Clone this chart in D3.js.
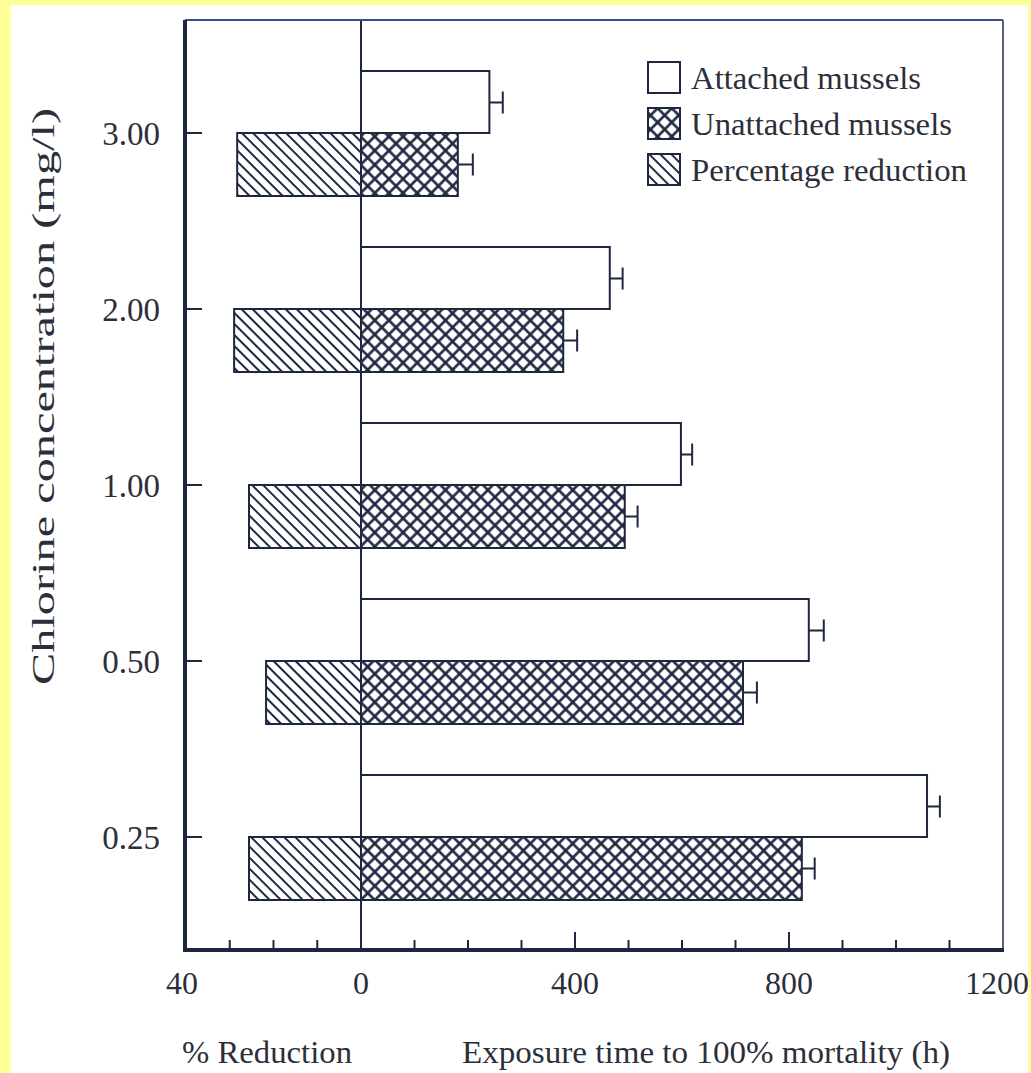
<!DOCTYPE html>
<html>
<head>
<meta charset="utf-8">
<script src="https://cdn.jsdelivr.net/npm/d3@7"></script>
<style>
html,body{margin:0;padding:0;background:#FFFF99;}
svg{display:block;}
text{font-family:"Liberation Serif","DejaVu Serif",serif;fill:#2b2f3a;}
</style>
</head>
<body>
<script>
// ---- data ----
const categories = ["3.00", "2.00", "1.00", "0.50", "0.25"];
const attached = [240, 465, 598, 837, 1058];
const attachedErr = [25, 24, 21, 28, 24];
const unattached = [181, 378, 493, 714, 824];
const unattachedErr = [28, 26, 24, 26, 24];
const reduction = [28.3, 29.0, 25.6, 21.7, 25.6];
const timeTicks = [0, 400, 800, 1200];
const timeMinor = [100, 200, 300, 500, 600, 700, 900, 1000, 1100];
const pctTicks = [40, 0];
const pctMinor = [10, 20, 30];
const legendLabels = ["Attached mussels", "Unattached mussels", "Percentage reduction"];

(function () {
const W = 1031, H = 1073;
const ink = "#1e2740";
const svg = d3.select("body").append("svg").attr("width", W).attr("height", H);

// patterns
const defs = svg.append("defs");
const diag = defs.append("pattern").attr("id", "diag").attr("patternUnits", "userSpaceOnUse")
  .attr("width", 7.8).attr("height", 7.8).attr("patternTransform", "rotate(45)");
diag.append("rect").attr("width", 7.8).attr("height", 7.8).attr("fill", "#fff");
diag.append("line").attr("x1", 0).attr("x2", 7.8).attr("y1", 1).attr("y2", 1).attr("stroke", ink).attr("stroke-width", 2);
const cross = defs.append("pattern").attr("id", "cross").attr("patternUnits", "userSpaceOnUse")
  .attr("width", 10).attr("height", 10).attr("patternTransform", "rotate(45)");
cross.append("rect").attr("width", 10).attr("height", 10).attr("fill", "#fff");
cross.append("line").attr("x1", 0).attr("x2", 10).attr("y1", 1.5).attr("y2", 1.5).attr("stroke", ink).attr("stroke-width", 2.6);
cross.append("line").attr("y1", 0).attr("y2", 10).attr("x1", 1.5).attr("x2", 1.5).attr("stroke", ink).attr("stroke-width", 2.6);

// white paper
svg.append("rect").attr("x", 11).attr("y", 5).attr("width", 1017).attr("height", H - 5).attr("fill", "#fff");

// scales
const xT = d3.scaleLinear().domain([0, 1200]).range([361, 1003]);
const xP = d3.scaleLinear().domain([0, 40]).range([361, 186]);
const yC = d3.scalePoint().domain(categories).range([133, 837]);
const barH = 63;
const plotTop = 20, plotBottom = 950;

const g = svg.append("g");

// bars: percentage reduction
g.selectAll(".pct").data(categories).join("rect")
  .attr("x", (d, i) => xP(reduction[i])).attr("y", d => yC(d))
  .attr("width", (d, i) => xP(0) - xP(reduction[i])).attr("height", barH)
  .attr("fill", "url(#diag)").attr("stroke", ink).attr("stroke-width", 2);
// unattached
g.selectAll(".un").data(categories).join("rect")
  .attr("x", xT(0)).attr("y", d => yC(d))
  .attr("width", (d, i) => xT(unattached[i]) - xT(0)).attr("height", barH)
  .attr("fill", "url(#cross)").attr("stroke", ink).attr("stroke-width", 2);
// attached
g.selectAll(".at").data(categories).join("rect")
  .attr("x", xT(0)).attr("y", d => yC(d) - barH + 1)
  .attr("width", (d, i) => xT(attached[i]) - xT(0)).attr("height", barH - 1)
  .attr("fill", "#fff").attr("stroke", ink).attr("stroke-width", 2);

// error bars
function errBars(vals, errs, dy) {
  categories.forEach((c, i) => {
    const y = yC(c) + dy;
    g.append("line").attr("x1", xT(vals[i])).attr("x2", xT(vals[i] + errs[i]))
      .attr("y1", y).attr("y2", y).attr("stroke", ink).attr("stroke-width", 2);
    g.append("line").attr("x1", xT(vals[i] + errs[i])).attr("x2", xT(vals[i] + errs[i]))
      .attr("y1", y - 11).attr("y2", y + 11).attr("stroke", ink).attr("stroke-width", 2);
  });
}
errBars(attached, attachedErr, -barH / 2 + 1);
errBars(unattached, unattachedErr, barH / 2);

// zero line
g.append("line").attr("x1", xT(0)).attr("x2", xT(0)).attr("y1", plotTop).attr("y2", plotBottom)
  .attr("stroke", ink).attr("stroke-width", 2);

// frame
g.append("line").attr("x1", 185).attr("x2", 1003).attr("y1", plotTop).attr("y2", plotTop).attr("stroke", "#3a4a8a").attr("stroke-width", 2);
g.append("line").attr("x1", 1003).attr("x2", 1003).attr("y1", plotTop).attr("y2", plotBottom).attr("stroke", "#55607a").attr("stroke-width", 2);
g.append("line").attr("x1", 185).attr("x2", 185).attr("y1", plotTop).attr("y2", plotBottom + 2).attr("stroke", ink).attr("stroke-width", 4);
g.append("line").attr("x1", 183).attr("x2", 1004).attr("y1", plotBottom).attr("y2", plotBottom).attr("stroke", ink).attr("stroke-width", 4);

// y ticks (inward)
categories.forEach(c => {
  g.append("line").attr("x1", 187).attr("x2", 202).attr("y1", yC(c)).attr("y2", yC(c))
    .attr("stroke", ink).attr("stroke-width", 2);
});
svg.selectAll(".ylab").data(categories).join("text")
  .attr("x", 160).attr("y", d => yC(d)).attr("dy", "0.35em")
  .attr("text-anchor", "end").attr("font-size", 33).text(d => d);

// x ticks (inward)
timeMinor.forEach(v => g.append("line").attr("x1", xT(v)).attr("x2", xT(v)).attr("y1", plotBottom).attr("y2", plotBottom - 10).attr("stroke", ink).attr("stroke-width", 2));
[400, 800].forEach(v => g.append("line").attr("x1", xT(v)).attr("x2", xT(v)).attr("y1", plotBottom).attr("y2", plotBottom - 18).attr("stroke", ink).attr("stroke-width", 2));
pctMinor.forEach(v => g.append("line").attr("x1", xP(v)).attr("x2", xP(v)).attr("y1", plotBottom).attr("y2", plotBottom - 10).attr("stroke", ink).attr("stroke-width", 2));

svg.selectAll(".tl").data(timeTicks).join("text")
  .attr("x", d => d === 1200 ? xT(d) - 6 : xT(d)).attr("y", 994)
  .attr("text-anchor", "middle").attr("font-size", 32).text(d => d);
svg.selectAll(".pl").data(pctTicks.filter(d => d !== 0)).join("text")
  .attr("x", d => xP(d) - 4).attr("y", 994)
  .attr("text-anchor", "middle").attr("font-size", 32).text(d => d);

// axis titles
svg.append("text").attr("x", 182).attr("y", 1063).attr("font-size", 31)
  .attr("textLength", 170).attr("lengthAdjust", "spacingAndGlyphs").text("% Reduction");
svg.append("text").attr("x", 462).attr("y", 1063).attr("font-size", 31)
  .attr("textLength", 488).attr("lengthAdjust", "spacingAndGlyphs").text("Exposure time to 100% mortality (h)");
svg.append("text").attr("transform", "translate(54,685) rotate(-90)")
  .attr("font-size", 32).attr("textLength", 577).attr("lengthAdjust", "spacingAndGlyphs")
  .text("Chlorine concentration (mg/l)");

// legend
const fills = ["#fff", "url(#cross)", "url(#diag)"];
const legW = [230, 261, 276];
const leg = svg.append("g");
legendLabels.forEach((l, i) => {
  const y = 62 + i * 46;
  leg.append("rect").attr("x", 648).attr("y", y).attr("width", 32).attr("height", 31)
    .attr("fill", fills[i]).attr("stroke", ink).attr("stroke-width", 2);
  leg.append("text").attr("x", 691).attr("y", y + 27).attr("font-size", 32)
    .attr("textLength", legW[i]).attr("lengthAdjust", "spacingAndGlyphs").text(l);
});
})();
</script>
</body>
</html>
